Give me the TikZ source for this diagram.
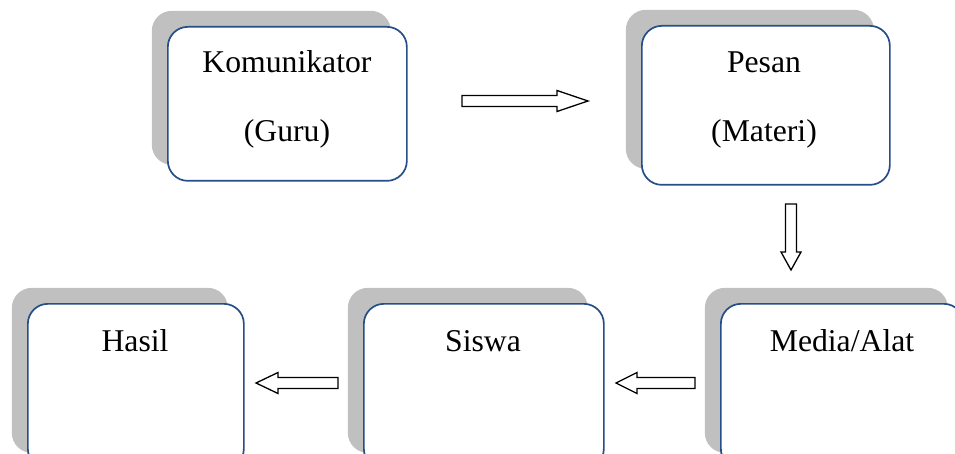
\documentclass[tikz,border=0pt]{standalone}
\usepackage{fontspec}
\setmainfont{Liberation Serif}
\usetikzlibrary{shadows}
\definecolor{boxblue}{RGB}{38,78,136}
\definecolor{shadowgray}{RGB}{192,192,192}
\newcommand\harrow[4]{% x0, x1, y, head length (signed)
  \draw[blockarr] ({#1},{#3-5.5}) -- ({#2-(#4)},{#3-5.5}) -- ({#2-(#4)},{#3-10.5}) -- ({#2},{#3})
    -- ({#2-(#4)},{#3+10.5}) -- ({#2-(#4)},{#3+5.5}) -- ({#1},{#3+5.5}) -- cycle;}
\newcommand\varrow[4]{% y0, y1, x, head length
  \draw[blockarr] ({#3-5.5},{#1}) -- ({#3-5.5},{#2-(#4)}) -- ({#3-10},{#2-(#4)}) -- ({#3},{#2})
    -- ({#3+10},{#2-(#4)}) -- ({#3+5.5},{#2-(#4)}) -- ({#3+5.5},{#1}) -- cycle;}
\begin{document}
\begin{tikzpicture}[x=1pt,y=-1pt,
  box/.style={draw=boxblue, line width=1.7pt, fill=white, rounded corners=20pt,
    anchor=north west, inner sep=0pt,
    copy shadow={shadow xshift=-16pt, shadow yshift=16pt, draw=none, fill=shadowgray}},
  lbl/.style={anchor=base, inner sep=0pt, font=\fontsize{31.7}{38}\selectfont},
  blockarr/.style={draw=black, line width=1.3pt, fill=white, line join=miter}]
\useasboundingbox (0,0) rectangle (955,454);
\node[box, minimum width=239pt, minimum height=154pt] (kom) at (167,26) {};
\node[box, minimum width=248pt, minimum height=159pt] (pes) at (641,25) {};
\node[box, minimum width=216pt, minimum height=165pt] (has) at (27,303) {};
\node[box, minimum width=240pt, minimum height=165pt] (sis) at (363,303) {};
\node[box, minimum width=243pt, minimum height=165pt] (med) at (720,303) {};
\node[lbl] (t1) at (287,73) {Komunikator};
\node[lbl] (t2) at (287,142) {(Guru)};
\node[lbl] (t3) at (764,73) {Pesan};
\node[lbl] (t4) at (764,142) {(Materi)};
\node[lbl] (t5) at (135,351) {Hasil};
\node[lbl] (t6) at (483,351) {Siswa};
\node[lbl] (t7) at (842,351) {Media/Alat};
\harrow{462}{588}{101}{31}
\varrow{204}{270}{791}{18}
\harrow{695}{616}{383}{-21}
\harrow{338}{256}{383}{-22}
\end{tikzpicture}
\end{document}
